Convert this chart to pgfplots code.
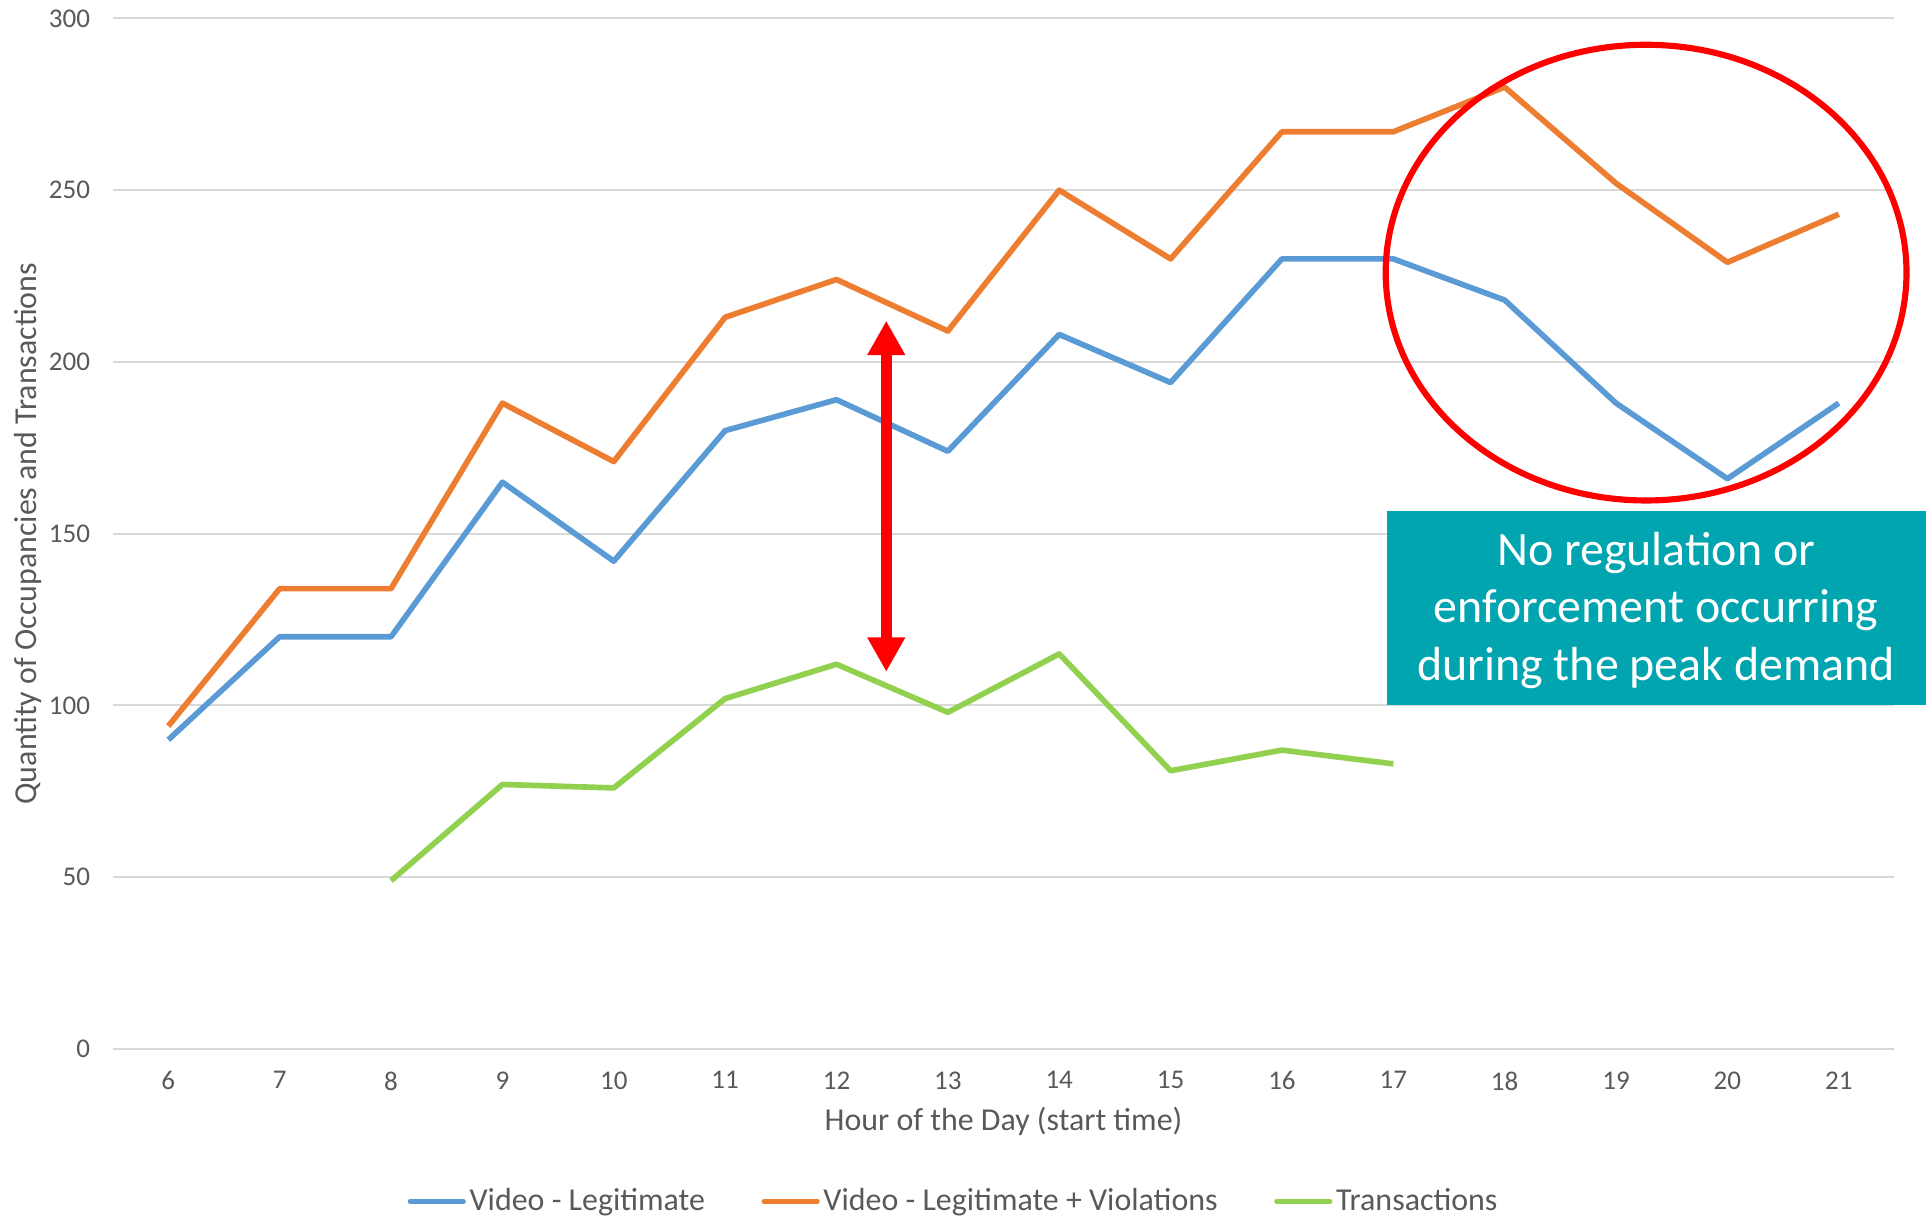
\documentclass[border=0pt]{standalone}
\usepackage{fontspec}
\setmainfont{Carlito}
\usepackage{pgfplots}
\pgfplotsset{compat=1.18}
\usetikzlibrary{arrows.meta}
\definecolor{cblue}{HTML}{5B9BD5}
\definecolor{corange}{HTML}{ED7D31}
\definecolor{cgreen}{HTML}{92D050}
\definecolor{tgray}{HTML}{595959}
\definecolor{ggray}{HTML}{D9D9D9}
\definecolor{tealbox}{RGB}{0,165,175}
\begin{document}
\begin{tikzpicture}
\useasboundingbox (-45.85pt,-68pt) rectangle (738.15pt,427pt);
\begin{axis}[
  at={(0,0)}, anchor=south west,
  scale only axis, width=725.3pt, height=419.5pt,
  xmin=5.5, xmax=21.5, ymin=0, ymax=300,
  xtick={6,...,21}, ytick={0,50,...,300},
  ymajorgrids, major grid style={ggray, line width=0.8pt},
  axis line style={draw=none}, major tick length=0pt,
  clip=false,
  /pgf/number format/assume math mode=true,
  tick label style={font=\fontsize{11}{13}\selectfont, text=tgray},
  yticklabel style={anchor=east, inner sep=0pt, xshift=-9pt},
  xticklabel style={anchor=north, inner sep=0pt, yshift=-9pt},
  xlabel={Hour of the Day (start time)},
  ylabel={Quantity of Occupancies and Transactions},
  label style={font=\fontsize{13}{15.6}\selectfont, text=tgray},
  xlabel style={at={(axis description cs:0.5,-0.0703)}, anchor=center},
  ylabel style={at={(axis description cs:-0.0477,0.5)}, anchor=center},
  legend columns=3,
  legend image code/.code={\draw[#1, line width=2pt, line cap=round] (0pt,0pt) -- (21.7pt,0pt);},
  legend style={at={(axis description cs:0.4714,-0.148)}, anchor=center,
    draw=none, fill=none, inner sep=0pt,
    font=\fontsize{13}{15.6}\selectfont, text=tgray,
    nodes={inner sep=0pt},
    /tikz/every odd column/.append style={column sep=1.5pt},
    /tikz/every even column/.append style={column sep=23pt}},
]
\addplot[cblue, line width=2.3pt, line join=round] coordinates {
 (6,90) (7,120) (8,120) (9,165) (10,142) (11,180) (12,189) (13,174)
 (14,208) (15,194) (16,230) (17,230) (18,218) (19,188) (20,166) (21,188)};
\addlegendentry{Video - Legitimate}
\addplot[corange, line width=2.3pt, line join=round] coordinates {
 (6,94) (7,134) (8,134) (9,188) (10,171) (11,213) (12,224) (13,209)
 (14,250) (15,230) (16,267) (17,267) (18,280) (19,252) (20,229) (21,243)};
\addlegendentry{Video - Legitimate + Violations}
\addplot[cgreen, line width=2.3pt, line join=round] coordinates {
 (8,49) (9,77) (10,76) (11,102) (12,112) (13,98) (14,115) (15,81) (16,87) (17,83)};
\addlegendentry{Transactions}
\draw[red, line width=4.5pt, {Triangle[length=14pt,width=14.5pt]}-{Triangle[length=14pt,width=14.5pt]}]
  (axis cs:12.447,109.8) -- (axis cs:12.447,212);
\draw[red, line width=2.5pt] (axis cs:19.27,226) ellipse [x radius=106pt, y radius=92.75pt];
\end{axis}
\fill[tealbox] (518.65pt,140pt) rectangle (738.15pt,219pt);
\node[text=white, align=center, font=\fontsize{19.5}{23.5}\selectfont, inner sep=0pt]
  at (628.3pt,178.5pt) {No regulation or\\enforcement occurring\\during the peak demand};
\end{tikzpicture}
\end{document}
